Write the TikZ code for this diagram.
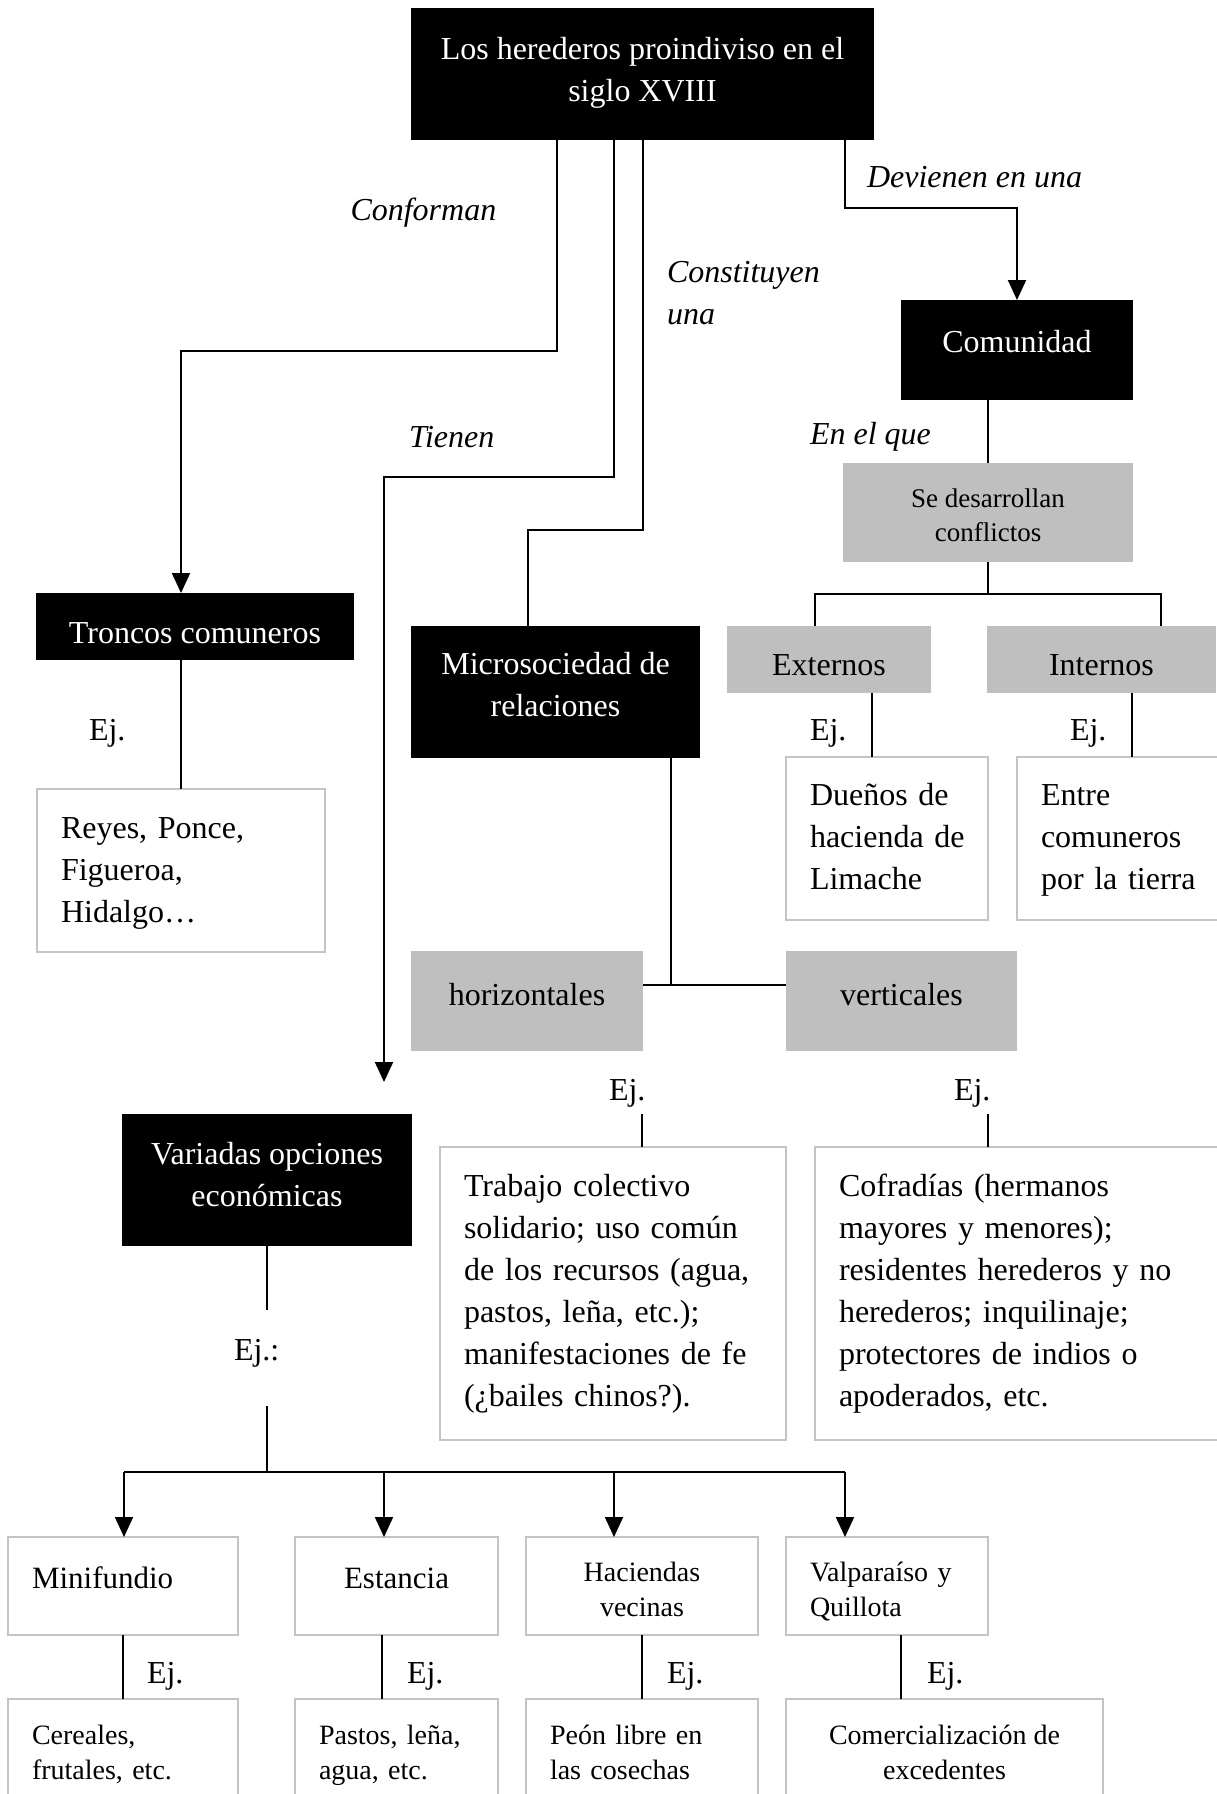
\documentclass[tikz,border=0pt]{standalone}
\usepackage{fontspec}
\setmainfont{Liberation Serif}
\usetikzlibrary{arrows.meta,calc}
\definecolor{panelgray}{RGB}{191,191,191}
\definecolor{edgegray}{RGB}{196,196,196}
\newcommand{\fsmain}{\fontsize{32}{42}\selectfont}
\newcommand{\fsbottom}{\fontsize{28}{35}\selectfont}
\newcommand{\fsmid}{\fontsize{27}{34}\selectfont}
\newcommand{\fsrow}{\fontsize{31}{40}\selectfont}

\begin{document}
\begin{tikzpicture}[x=1pt,y=-1pt,
  box/.style={rectangle, inner sep=0pt, outer sep=0pt, font=\fsmain, align=center},
  darkbox/.style={box, fill=black, text=white},
  shadebox/.style={box, fill=panelgray},
  plainbox/.style={box, draw=edgegray, line width=2.5pt, fill=white},
  leftbox/.style={plainbox, align=left, text width=#1},
  % sets the text's height and depth, which places its baseline in the box
  hd/.style 2 args={text height=#1pt, text depth=#2pt},
  link/.style={line width=2pt},
  feed/.style={link, -{Triangle[length=20pt,width=18pt]}},
  tag/.style={inner sep=0pt, outer sep=0pt, font=\fsmain, anchor=base west},
  verb/.style={tag, font=\fsmain\itshape},
]
\useasboundingbox (0,0) rectangle (1216,1794);

% ---- main boxes ----
\node[darkbox, hd={60}{5}, minimum width=463pt, minimum height=132pt] (top) at (642.5,74)
  {Los herederos proindiviso en el\\siglo XVIII};
\node[darkbox, hd={22}{18}, minimum width=232pt, minimum height=100pt] (comunidad) at (1017,350) {Comunidad};
\node[shadebox, font=\fsmid, hd={58}{0}, minimum width=290pt, minimum height=99pt] (desarrollan) at (988,512.5)
  {Se desarrollan\\conflictos};
\node[shadebox, hd={31}{0}, minimum width=204pt, minimum height=67pt] (externos) at (829,659.5) {Externos};
\node[shadebox, hd={31}{0}, minimum width=229pt, minimum height=67pt] (internos) at (1101.5,659.5) {Internos};
\node[leftbox=154pt, hd={22}{89}, minimum width=202pt, minimum height=163pt] (duenos) at (887,838.5)
  {Dueños de\\hacienda~de\\Limache};
\node[leftbox=160pt, hd={22}{89}, minimum width=208pt, minimum height=163pt] (entre) at (1121,838.5)
  {Entre\\comuneros\\por~la~tierra};

\node[darkbox, hd={33}{0}, minimum width=318pt, minimum height=67pt] (troncos) at (195,626.5) {Troncos comuneros};
\node[leftbox=240pt, hd={22}{87}, minimum width=288pt, minimum height=163pt] (reyes) at (181,870.5)
  {Reyes, Ponce,\\Figueroa,\\Hidalgo…};

\node[darkbox, hd={56}{7}, minimum width=289pt, minimum height=132pt] (micro) at (555.5,692)
  {Microsociedad de\\relaciones};
\node[shadebox, hd={22}{14}, minimum width=232pt, minimum height=100pt] (horiz) at (527,1001) {horizontales};
\node[shadebox, hd={22}{14}, minimum width=231pt, minimum height=100pt] (vert) at (901.5,1001) {verticales};
\node[leftbox=298pt, minimum width=346pt, minimum height=293pt] (trabajo) at (613,1293.5)
  {Trabajo colectivo\\solidario; uso común\\de los recursos (agua,\\pastos, leña, etc.);\\manifestaciones de fe\\(¿bailes chinos?).};
\node[leftbox=362pt, minimum width=410pt, minimum height=293pt] (cofradias) at (1020,1293.5)
  {Cofradías (hermanos\\mayores y menores);\\residentes herederos y~no\\herederos; inquilinaje;\\protectores de indios o\\apoderados, etc.};

\node[darkbox, hd={59}{7}, minimum width=290pt, minimum height=132pt] (variadas) at (267,1180)
  {Variadas opciones\\económicas};

% ---- bottom row ----
\node[leftbox=182pt, font=\fsrow, hd={21}{17}, minimum width=230pt, minimum height=98pt] (mini) at (123,1586) {Minifundio};
\node[plainbox, font=\fsrow, hd={21}{17}, minimum width=203pt, minimum height=98pt] (estancia) at (396.5,1586) {Estancia};
\node[plainbox, font=\fsbottom, hd={60}{0}, minimum width=232pt, minimum height=98pt] (haciendas) at (642,1586) {Haciendas\\vecinas};
\node[leftbox=154pt, font=\fsbottom, hd={19}{29}, minimum width=202pt, minimum height=98pt] (valpa) at (887,1586) {Valparaíso~y\\Quillota};

\node[leftbox=182pt, font=\fsbottom, hd={19}{40}, minimum width=230pt, minimum height=112pt] (cereales) at (123,1755) {Cereales,\\frutales, etc.};
\node[leftbox=155pt, font=\fsbottom, hd={19}{40}, minimum width=203pt, minimum height=112pt] (pastos) at (396.5,1755) {Pastos, leña,\\agua, etc.};
\node[leftbox=184pt, font=\fsbottom, hd={19}{40}, minimum width=232pt, minimum height=112pt] (peon) at (642,1755) {Peón libre en\\las cosechas};
\node[plainbox, font=\fsbottom, hd={55}{6}, minimum width=317pt, minimum height=112pt] (comerc) at (944.5,1755) {Comercialización de\\excedentes};

% ---- italic relation labels ----
\node[verb] (lConforman) at (350.5,220) {Conforman};
\node[verb] (lDevienen) at (867,187.5) {Devienen en una};
\node[verb, anchor=north west, align=left] (lConstituyen) at (667,261) {Constituyen\\una};
\node[verb] (lTienen) at (409,447) {Tienen};
\node[verb] (lEnElQue) at (810,444) {En el que};

% ---- example tags ----
\node[tag] (ejTroncos) at (89,740) {Ej.};
\node[tag] (ejExternos) at (810,740) {Ej.};
\node[tag] (ejInternos) at (1070,740) {Ej.};
\node[tag] (ejHoriz) at (609,1100) {Ej.};
\node[tag] (ejVert) at (954,1100) {Ej.};
\node[tag] (ejOpciones) at (234,1360) {Ej.:};
\node[tag] (ejMini) at (147,1683) {Ej.};
\node[tag] (ejEstancia) at (407,1683) {Ej.};
\node[tag] (ejHaciendas) at (667,1683) {Ej.};
\node[tag] (ejValpa) at (927,1683) {Ej.};

% ---- bend points ----
\coordinate (confBend) at (557,351);
\coordinate (confDrop) at (181,351);
\coordinate (tienBend) at (614,477);
\coordinate (tienDrop) at (384,477);
\coordinate (tienEnd) at (384,1082);
\coordinate (consBend) at (643,530);
\coordinate (consDrop) at (528,530);
\coordinate (devBend) at (845,208);
\coordinate (conflBar) at (988,594);
\coordinate (extTop) at (815,594);
\coordinate (intTop) at (1161,594);
\coordinate (extLink) at (872,700);
\coordinate (intLink) at (1132,700);
\coordinate (relBar) at (671,985);
\coordinate (horEj) at (642,1114);
\coordinate (verEj) at (988,1114);
\coordinate (opcA) at (267,1310);
\coordinate (opcB) at (267,1406);
\coordinate (opcBar) at (267,1472);
\coordinate (barL) at (124,1472);
\coordinate (barEst) at (384,1472);
\coordinate (barHac) at (614,1472);
\coordinate (barR) at (845,1472);
\coordinate (estLink) at (382,1650);
\coordinate (valLink) at (901,1650);

% ---- connectors from the top box ----
\draw[feed] (top.south -| confBend) -- (confBend) -- (confDrop) -- (troncos.north -| confDrop);
\draw[feed] (top.south -| tienBend) -- (tienBend) -- (tienDrop) -- (tienEnd);
\draw[link] (top.south -| consBend) -- (consBend) -- (consDrop) -- (micro.north -| consDrop);
\draw[feed] (top.south -| devBend) -- (devBend) -| (comunidad.north);

% ---- community branch ----
\draw[link] (comunidad.south -| desarrollan.north) -- (desarrollan.north);
\draw[link] (desarrollan.south) -- (conflBar);
\draw[link] (externos.north -| extTop) -- (extTop) -- (intTop) -- (internos.north -| intTop);
\draw[link] (externos.south -| extLink) -- (duenos.north -| extLink);
\draw[link] (internos.south -| intLink) -- (entre.north -| intLink);

% ---- troncos branch ----
\draw[link] (troncos.south -| reyes.north) -- (reyes.north);

% ---- relations branch ----
\draw[link] (micro.south -| relBar) -- (relBar);
\draw[link] (horiz.east |- relBar) -- (vert.west |- relBar);
\draw[link] (horEj) -- (trabajo.north -| horEj);
\draw[link] (verEj) -- (cofradias.north -| verEj);

% ---- economic options branch ----
\draw[link] (variadas.south) -- (variadas.south |- opcA);
\draw[link] (opcB) -- (opcBar);
\draw[link] (barL) -- (barR);
\draw[feed] (barL) -- (mini.north -| barL);
\draw[feed] (barEst) -- (estancia.north -| barEst);
\draw[feed] (barHac) -- (haciendas.north -| barHac);
\draw[feed] (barR) -- (valpa.north -| barR);

\draw[link] (mini.south) -- (cereales.north);
\draw[link] (estancia.south -| estLink) -- (pastos.north -| estLink);
\draw[link] (haciendas.south) -- (peon.north);
\draw[link] (valpa.south -| valLink) -- (comerc.north -| valLink);
\end{tikzpicture}
\end{document}
